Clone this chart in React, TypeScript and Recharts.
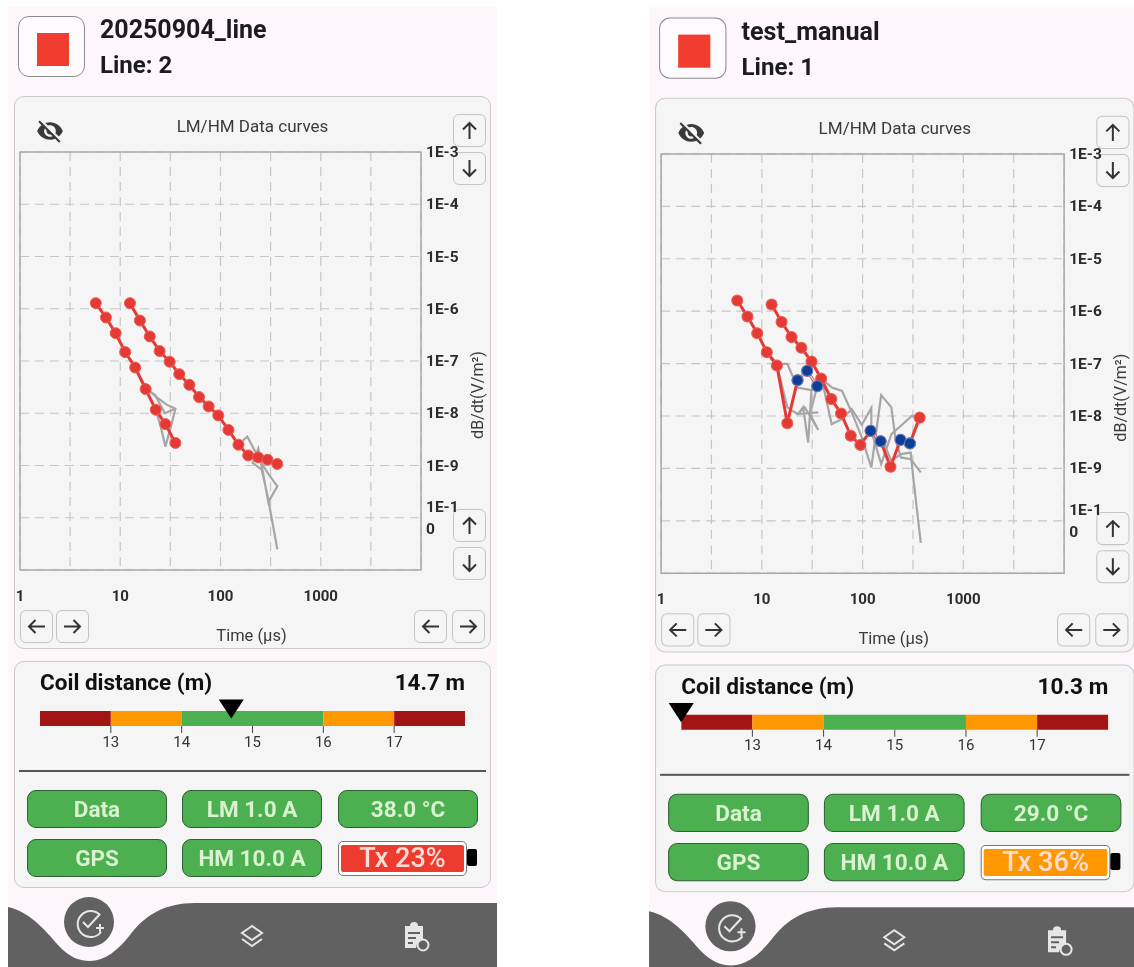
import React from 'react';
import {
  LineChart,
  Line,
  BarChart,
  Bar,
  XAxis,
  YAxis,
  CartesianGrid,
  ReferenceArea,
  ReferenceDot,
  Label,
} from 'recharts';

const lmTimes = [5.7, 7.2, 9, 11.2, 14.1, 17.9, 22.6, 28.2, 35.5];
const hmTimes = [12.5, 15.7, 19.7, 24.7, 31.1, 38.8, 48.9, 61.1, 76.2, 95, 120, 151, 189, 238, 295, 368];

const leftLm = [1.28e-6, 6.8e-7, 3.4e-7, 1.48e-7, 7.5e-8, 2.9e-8, 1.17e-8, 6.2e-9, 2.7e-9];
const leftHm = [
  1.28e-6, 5.96e-7, 2.95e-7, 1.55e-7, 9.7e-8, 5.6e-8, 3.5e-8, 2.04e-8, 1.35e-8, 9.1e-9, 4.8e-9, 2.5e-9, 1.56e-9,
  1.43e-9, 1.29e-9, 1.07e-9,
];
const rightLm = [1.6e-6, 7.9e-7, 3.8e-7, 1.65e-7, 9.2e-8, 7.3e-9, 4.8e-8, 7.3e-8, 3.7e-8];
const rightHm = [
  1.34e-6, 6.2e-7, 3.2e-7, 2.0e-7, 1.09e-7, 5.2e-8, 2.1e-8, 1.12e-8, 4.2e-9, 2.8e-9, 5.2e-9, 3.3e-9, 1.07e-9, 3.5e-9,
  3.0e-9, 9.3e-9,
];

// repeat soundings, [time, value]
const leftGrayA = [[14.1, 7.5e-8], [17.9, 3.2e-8], [22.5, 2.1e-8], [29, 1.46e-8], [35.5, 1.22e-8], [32.6, 6.3e-9], [28.2, 2.3e-9], [25.3, 5.6e-9], [22.5, 1.17e-8]];
const leftGrayB = [[17.9, 2.8e-8], [22.2, 2.26e-8], [27.9, 1.0e-8], [35.5, 1.22e-8]];
const leftGrayC = [[151, 2.5e-9], [185, 3.6e-9], [238, 1.43e-9], [295, 7.2e-10], [369, 4.0e-10], [300, 2.0e-10], [264, 7.7e-10], [238, 2.1e-9], [209, 1.12e-9], [258, 8.3e-10], [295, 2.6e-10], [369, 2.5e-11]];

const rightGrayA = [[11.3, 1.65e-7], [14.3, 9.9e-8], [17.9, 9.9e-8], [22.6, 3.5e-8], [31.1, 3.1e-8], [28.8, 3.1e-9], [25.7, 1.46e-8], [22.9, 1.09e-8], [36.3, 1.17e-8]];
const rightGrayB = [[14.3, 8.5e-8], [17.9, 1.46e-8], [22.6, 1.09e-8], [26.7, 1.46e-8], [36.3, 5.4e-9], [30, 1.09e-8], [35.2, 3.5e-8]];
const rightGrayC = [[39.2, 5.2e-8], [49.3, 7.0e-9], [62.5, 8.7e-9], [78, 1.36e-8], [98.2, 6.8e-9], [122, 1.42e-8], [122, 5.2e-9], [153, 1.21e-9], [193, 4.5e-9], [240, 6.5e-9], [310, 1.01e-8], [378, 9.3e-9]];
const rightGrayD = [[31.4, 1.09e-7], [39.2, 5.1e-8], [49.7, 3.5e-8], [62.5, 3.0e-8], [78, 1.17e-8], [98.2, 3.9e-9], [122, 1.04e-9], [153, 2.5e-8], [193, 1.46e-8], [211, 3.9e-9], [240, 1.62e-9], [300, 1.5e-9], [378, 8.4e-10]];
const rightGrayE = [[153, 3.9e-9], [193, 1.4e-9], [240, 1.87e-9], [300, 2.0e-9], [321, 5.8e-10], [378, 3.8e-11]];

// points with the opposite sign are drawn blue
const rightBlueA = [[22.6, 4.8e-8], [28.2, 7.3e-8], [35.5, 3.7e-8]];
const rightBlueB = [[120, 5.2e-9], [151, 3.3e-9]];
const rightBlueC = [[238, 3.5e-9], [295, 3.0e-9]];

const xTicks = [1, 3.16, 10, 31.6, 100, 316, 1000, 3160, 10000];
const xLabels = [1, 10, 100, 1000];
const yTicks = [1e-3, 1e-4, 1e-5, 1e-6, 1e-7, 1e-8, 1e-9, 1e-10, 1e-11];

// stacked from zero, the axis window starts at 12 m
const coilBands = [
  { key: 'a', width: 13, color: '#a31515' },
  { key: 'b', width: 1, color: '#ff9800' },
  { key: 'c', width: 2, color: '#4caf50' },
  { key: 'd', width: 1, color: '#ff9800' },
  { key: 'e', width: 1, color: '#a31515' },
];
const coilTicks = [13, 14, 15, 16, 17];

const FONT = 'Roboto, sans-serif';

const toPoints = (times: number[], values: number[]) => times.map((t, i) => ({ t, v: values[i] }));
const pairs = (list: number[][]) => list.map(([t, v]) => ({ t, v }));
const coilRow = [Object.fromEntries([['row', 'coil'], ...coilBands.map(b => [b.key, b.width])])];

const YTick = ({ x, y, payload }: any) => {
  const exp = Math.round(Math.log10(payload.value));
  if (exp === -11) return null;
  const style = { fontFamily: FONT, fontSize: 15.5, fontWeight: 700, fill: '#2b2b2b' };
  const left = x - 3;
  if (exp === -10) {
    return (
      <text x={left} y={y} style={style}>
        <tspan x={left} y={y - 6}>1E-1</tspan>
        <tspan x={left} y={y + 16}>0</tspan>
      </text>
    );
  }
  return <text x={left} y={y + 5} style={style}>{`1E${exp}`}</text>;
};

const Arrow = ({ x, y, dir }: { x: number; y: number; dir: 'up' | 'down' | 'left' | 'right' }) => {
  const angle = { up: 0, right: 90, down: 180, left: 270 }[dir];
  return (
    <div
      style={{
        position: 'absolute',
        left: x,
        top: y,
        width: 31,
        height: 31,
        border: '1.5px solid #c4c4c4',
        borderRadius: 6,
        boxSizing: 'content-box',
      }}
    >
      <svg width={31} height={31} viewBox="0 0 31 31">
        <g transform={`rotate(${angle} 15.5 15.5)`} fill="none" stroke="#333" strokeWidth={2}>
          <path d="M15.5 24V8M9 14.5l6.5-6.5 6.5 6.5" />
        </g>
      </svg>
    </div>
  );
};

const Pill = ({ x, y, text }: { x: number; y: number; text: string }) => (
  <div
    style={{
      position: 'absolute',
      left: x,
      top: y,
      width: 138,
      height: 36,
      background: '#4caf50',
      border: '1.5px solid #2f5d34',
      borderRadius: 9,
      color: '#d9f2cf',
      fontFamily: FONT,
      fontWeight: 700,
      fontSize: 22.5,
      lineHeight: '36px',
      textAlign: 'center',
      whiteSpace: 'nowrap',
    }}
  >
    {text}
  </div>
);

const Marker = ({ cx, cy }: any) => <path d={`M${cx - 12.5} ${cy - 19}h25l-12.5 19z`} fill="#000" />;

const grayLine = (data: { t: number; v: number }[], key: string) => (
  <Line key={key} data={data} dataKey="v" stroke="#a6a6a6" strokeWidth={2.2} dot={false} isAnimationActive={false} />
);

const redDot = { r: 5.5, fill: '#e53935', stroke: '#ea5f54', strokeWidth: 1 };
const blueDot = { r: 5.5, fill: '#0d3f9a', stroke: '#5f83bd', strokeWidth: 1 };

interface ScreenProps {
  name: string;
  line: number;
  lm: number[];
  hm: number[];
  grays: number[][][];
  blues: number[][][];
  coil: number;
  temp: string;
  tx: string;
  txColor: string;
  transform?: string;
}

const Screen = ({ name, line, lm, hm, grays, blues, coil, temp, tx, txColor, transform }: ScreenProps) => (
  <div style={{ position: 'absolute', left: 0, top: 0, width: 497, height: 967, transform, transformOrigin: '0 0' }}>
    <div style={{ position: 'absolute', left: 8, top: 6, width: 489, height: 961, background: '#fdf7fc' }} />

    {/* header */}
    <div
      style={{
        position: 'absolute',
        left: 18,
        top: 16,
        width: 65,
        height: 59,
        background: '#fdfbfd',
        border: '1.5px solid #8a8a8a',
        borderRadius: 11,
      }}
    />
    <div style={{ position: 'absolute', left: 37, top: 33, width: 32, height: 33, background: '#f13c30' }} />
    <div
      style={{
        position: 'absolute',
        left: 100,
        top: 15,
        fontFamily: FONT,
        fontWeight: 700,
        fontSize: 25,
        lineHeight: '30px',
        color: '#1c1b1f',
        whiteSpace: 'nowrap',
      }}
    >
      {name}
    </div>
    <div
      style={{
        position: 'absolute',
        left: 100,
        top: 50,
        fontFamily: FONT,
        fontWeight: 700,
        fontSize: 24,
        lineHeight: '30px',
        color: '#1c1b1f',
        whiteSpace: 'nowrap',
      }}
    >
      Line: {line}
    </div>

    {/* chart card */}
    <div
      style={{
        position: 'absolute',
        left: 14,
        top: 96,
        width: 475,
        height: 551,
        background: '#f5f5f5',
        border: '1.5px solid #c9c9c9',
        borderRadius: 10,
      }}
    />
    <svg style={{ position: 'absolute', left: 36, top: 117 }} width={28} height={28} viewBox="0 0 24 24">
      <path
        fill="#3a3a3a"
        d="M12 7c2.76 0 5 2.24 5 5 0 .65-.13 1.26-.36 1.83l2.92 2.92c1.51-1.26 2.7-2.89 3.43-4.75-1.73-4.39-6-7.5-11-7.5-1.4 0-2.74.25-3.98.7l2.16 2.16C10.74 7.13 11.35 7 12 7zM2 4.27l2.28 2.28.46.46C3.08 8.3 1.78 10.02 1 12c1.73 4.39 6 7.5 11 7.5 1.55 0 3.03-.3 4.38-.84l.42.42L19.73 22 21 20.73 3.27 3 2 4.27zM7.53 9.8l1.55 1.55c-.05.21-.08.43-.08.65 0 1.66 1.34 3 3 3 .22 0 .44-.03.65-.08l1.55 1.55c-.67.33-1.41.53-2.2.53-2.76 0-5-2.24-5-5 0-.79.2-1.53.53-2.2z"
      />
    </svg>
    <div
      style={{
        position: 'absolute',
        left: 14,
        width: 477,
        top: 117,
        textAlign: 'center',
        fontFamily: FONT,
        fontSize: 17,
        lineHeight: '18px',
        color: '#3a3a3a',
      }}
    >
      LM/HM Data curves
    </div>

    <Arrow x={453} y={114} dir="up" />
    <Arrow x={453} y={152} dir="down" />
    <Arrow x={453} y={509} dir="up" />
    <Arrow x={453} y={547} dir="down" />
    <Arrow x={20} y={610} dir="left" />
    <Arrow x={56} y={610} dir="right" />
    <Arrow x={414} y={610} dir="left" />
    <Arrow x={452} y={610} dir="right" />

    <div style={{ position: 'absolute', left: 0, top: 140 }}>
      <LineChart width={497} height={510} margin={{ top: 12, right: 20, bottom: 0, left: 20 }}>
        <CartesianGrid stroke="#c6c6c6" strokeDasharray="9 6" strokeWidth={1.2} />
        <ReferenceArea x1={1} x2={10000} y1={1e-11} y2={1e-3} fill="none" stroke="#a9a9a9" strokeWidth={1.5} />
        <XAxis
          dataKey="t"
          type="number"
          scale="log"
          domain={[1, 10000]}
          ticks={xTicks}
          interval={0}
          allowDataOverflow
          height={80}
          axisLine={false}
          tickLine={false}
          tickMargin={14}
          tick={{ fontFamily: FONT, fontSize: 15, fontWeight: 700, fill: '#2b2b2b' }}
          tickFormatter={(v: number) => (xLabels.includes(v) ? String(v) : '')}
        >
          <Label
            value="Time (µs)"
            position="insideBottom"
            offset={9}
            dx={31}
            style={{ fontFamily: FONT, fontSize: 16.5, fill: '#3a3a3a' }}
          />
        </XAxis>
        <YAxis
          orientation="right"
          type="number"
          scale="log"
          domain={[1e-11, 1e-3]}
          ticks={yTicks}
          interval={0}
          allowDataOverflow
          width={56}
          axisLine={false}
          tickLine={false}
          tick={YTick}
        >
          <Label
            value="dB/dt(V/m²)"
            angle={-90}
            position="insideRight"
            offset={0}
            dy={34}
            style={{ fontFamily: FONT, fontSize: 16, fill: '#3a3a3a', textAnchor: 'middle' }}
          />
        </YAxis>
        {grays.map((g, i) => grayLine(pairs(g), `gray-${i}`))}
        <Line data={toPoints(lmTimes, lm)} dataKey="v" stroke="#e53935" strokeWidth={3} dot={redDot} isAnimationActive={false} />
        <Line data={toPoints(hmTimes, hm)} dataKey="v" stroke="#e53935" strokeWidth={3} dot={redDot} isAnimationActive={false} />
        {blues.map((b, i) => (
          <Line key={`blue-${i}`} data={pairs(b)} dataKey="v" stroke="#c9d4e6" strokeWidth={1.5} dot={blueDot} isAnimationActive={false} />
        ))}
      </LineChart>
    </div>

    {/* coil card */}
    <div
      style={{
        position: 'absolute',
        left: 14,
        top: 661,
        width: 475,
        height: 225,
        background: '#f5f5f5',
        border: '1.5px solid #c9c9c9',
        borderRadius: 10,
      }}
    />
    <div
      style={{
        position: 'absolute',
        left: 40,
        top: 669,
        fontFamily: FONT,
        fontWeight: 700,
        fontSize: 22.5,
        lineHeight: '26px',
        color: '#111',
      }}
    >
      Coil distance (m)
    </div>
    <div
      style={{
        position: 'absolute',
        right: 32,
        top: 669,
        fontFamily: FONT,
        fontWeight: 700,
        fontSize: 22.5,
        lineHeight: '26px',
        color: '#111',
      }}
    >
      {coil} m
    </div>
    <div style={{ position: 'absolute', left: 0, top: 691 }}>
      <BarChart
        width={497}
        height={70}
        layout="vertical"
        data={coilRow}
        margin={{ top: 20, right: 32, bottom: 0, left: 40 }}
        barCategoryGap={0}
      >
        <XAxis
          type="number"
          domain={[12, 18]}
          allowDataOverflow
          ticks={coilTicks}
          interval={0}
          height={35}
          axisLine={false}
          tickSize={7}
          tickMargin={3}
          stroke="#444"
          tick={{ fontFamily: FONT, fontSize: 15, fill: '#333' }}
        />
        <YAxis type="category" dataKey="row" hide />
        {coilBands.map(band => (
          <Bar key={band.key} dataKey={band.key} stackId="coil" fill={band.color} isAnimationActive={false} />
        ))}
        <ReferenceDot x={Math.max(12, coil)} y="coil" ifOverflow="visible" shape={Marker} />
      </BarChart>
    </div>
    <div style={{ position: 'absolute', left: 19, top: 770, width: 467, height: 1.5, background: '#555' }} />

    <Pill x={27} y={790} text="Data" />
    <Pill x={182} y={790} text="LM 1.0 A" />
    <Pill x={338} y={790} text={temp} />
    <Pill x={27} y={839} text="GPS" />
    <Pill x={182} y={839} text="HM 10.0 A" />
    <div
      style={{
        position: 'absolute',
        left: 338,
        top: 841,
        width: 127,
        height: 33,
        background: '#fff',
        border: '1.5px solid #777',
        borderRadius: 5,
      }}
    />
    <div
      style={{
        position: 'absolute',
        left: 341,
        top: 845,
        width: 123,
        height: 27,
        background: txColor,
        borderRadius: 2,
        color: '#ffdcd6',
        fontFamily: FONT,
        fontSize: 27,
        fontWeight: 500,
        lineHeight: '27px',
        textAlign: 'center',
      }}
    >
      {tx}
    </div>
    <div style={{ position: 'absolute', left: 467, top: 849, width: 10, height: 17, background: '#000', borderRadius: 2 }} />

    {/* bottom nav */}
    <svg style={{ position: 'absolute', left: 0, top: 895 }} width={497} height={72} viewBox="0 895 497 72">
      <path
        fill="#616161"
        d="M8 907C30 912 45 930 58 945C70 958 80 961 90 961C105 961 118 950 130 935C145 915 165 903 195 903L497 903L497 967L8 967Z"
      />
      <circle cx={89} cy={922} r={25} fill="#616161" />
      <g fill="none" stroke="#e6e6e6" strokeWidth={2}>
        <path d="M100 915a13 13 0 1 0 1 17" />
        <path d="M83 922l5 5 12-13" />
        <path d="M100 924v8M96 928h8" />
        <path d="M252 926l-10 7 10 7 10-7zM242 939l10 7 10-7" />
      </g>
      <path
        fill="#e6e6e6"
        d="M405 926h5a4 4 0 0 1 8 0h5v14a8 8 0 0 0-7 8h-11zM408 932v2h12v-2zM408 937v2h8v-2zM408 942v2h5v-2z"
      />
      <circle cx={423} cy={945} r={5.5} fill="none" stroke="#e6e6e6" strokeWidth={2} />
    </svg>
  </div>
);

const App: React.FC = () => (
  <div
    style={{
      position: 'absolute',
      left: 0,
      top: 0,
      width: 1134,
      height: 967,
      overflow: 'hidden',
      background: '#fff',
      filter: 'blur(0.5px)',
    }}
  >
    <Screen
      name="20250904_line"
      line={2}
      lm={leftLm}
      hm={leftHm}
      grays={[leftGrayA, leftGrayB, leftGrayC]}
      blues={[]}
      coil={14.7}
      temp="38.0 °C"
      tx="Tx 23%"
      txColor="#ee3b30"
    />
    <Screen
      name="test_manual"
      line={1}
      lm={rightLm}
      hm={rightHm}
      grays={[rightGrayA, rightGrayB, rightGrayC, rightGrayD, rightGrayE]}
      blues={[rightBlueA, rightBlueB, rightBlueC]}
      coil={10.3}
      temp="29.0 °C"
      tx="Tx 36%"
      txColor="#ff9800"
      transform="translate(641px, 1.5px) scale(1.005, 1.003)"
    />
  </div>
);

export default App;
